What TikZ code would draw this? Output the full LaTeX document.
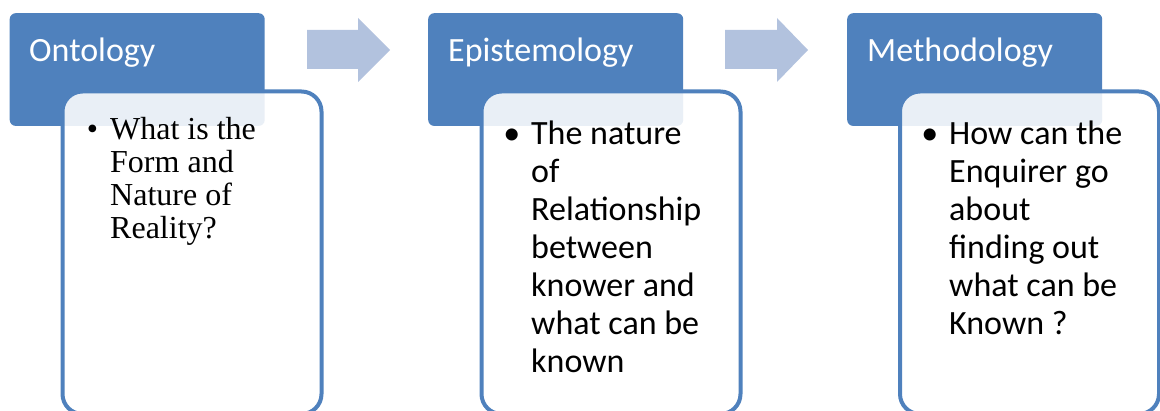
\documentclass[tikz,border=0pt]{standalone}
\usepackage{fontspec}
\setmainfont{Liberation Serif}
\newfontfamily\calibri{Carlito}
\usepackage{xcolor}
\usetikzlibrary{positioning}
\definecolor{hdblue}{RGB}{79,129,189}
\definecolor{arblue}{RGB}{178,194,222}

\begin{document}
\begin{tikzpicture}[x=1pt, y=1pt,
  hd/.style={fill=hdblue, rounded corners=6pt, inner sep=0pt, anchor=north west,
    minimum width=255pt, minimum height=112.7pt},
  cd/.style={draw=hdblue, line width=4pt, fill=white, fill opacity=0.88, draw opacity=1,
    rounded corners=20pt, inner sep=0pt, anchor=north west,
    minimum width=259pt, minimum height=322.5pt},
  ti/.style={anchor=base west, inner sep=0pt, text=white, font=\calibri\fontsize{34}{40}\selectfont},
  bt/.style={anchor=base west, inner sep=0pt, align=left},
  se/.style={bt, font=\fontsize{32}{33}\selectfont},
  sa/.style={bt, font=\calibri\fontsize{34}{38}\selectfont},
  ar/.style={fill=arblue}]
\useasboundingbox (0,0) rectangle (1160,410);
% header boxes
\node[hd] (h1) at (9.5,397) {};
\node[hd] (h2) at (428,397) {};
\node[hd] (h3) at (847,397) {};
% block arrows
\fill[ar] (307,380) -- (358,380) -- (358,392) -- (390,360) -- (358,328) -- (358,341) -- (307,341) -- cycle;
\fill[ar] (725,380) -- (777,380) -- (777,392) -- (808,360) -- (777,328) -- (777,341) -- (725,341) -- cycle;
% cards
\node[cd] (c1) at (60.5,320.5) {};
\node[cd] (c2) at (479.5,320.5) {};
\node[cd] (c3) at (898,320.5) {};
% titles
\node[ti] (t1) at (29,348) {Ontology};
\node[ti] (t2) at (448,348) {Epistemology};
\node[ti] (t3) at (867,348) {Methodology};
% bullet texts
\node[se] (b1) at (110,270) {\llap{\textbullet\hspace{12pt}}\begin{tabular}[t]{@{}l@{}}What is the\\Form and\\Nature of\\Reality?\end{tabular}};
\node[sa] (b2) at (531,265) {\llap{\textbullet\hspace{11pt}}\begin{tabular}[t]{@{}l@{}}The nature\\of\\Relationship\\between\\knower and\\what can be\\known\end{tabular}};
\node[sa] (b3) at (949,265) {\llap{\textbullet\hspace{11pt}}\begin{tabular}[t]{@{}l@{}}How can the\\Enquirer go\\about\\finding out\\what can be\\Known ?\end{tabular}};
\end{tikzpicture}
\end{document}
